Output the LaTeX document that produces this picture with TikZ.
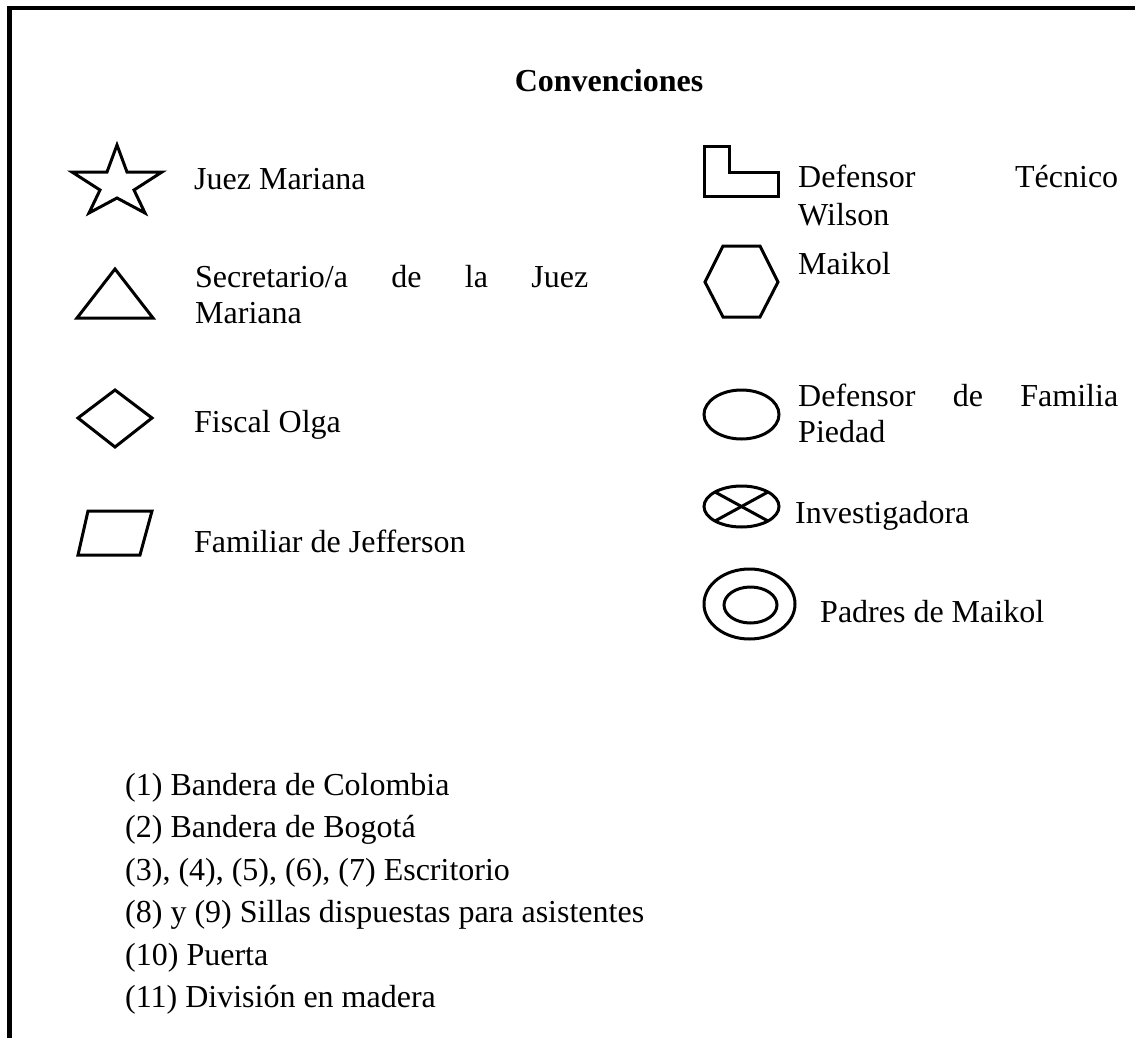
\documentclass[tikz,border=0pt]{standalone}
\usepackage{fontspec}
\setmainfont{Liberation Serif}
\begin{document}
\begin{tikzpicture}[x=1pt,y=-1pt,
  sym/.style={line width=3pt, line join=miter},
  frame/.style={line width=4.5pt},
  lbl/.style={anchor=base west, inner sep=0pt, font=\fontsize{32}{36}\selectfont},
  ttl/.style={anchor=base, inner sep=0pt, font=\fontsize{32}{36}\selectfont\bfseries}]
\useasboundingbox (0,0) rectangle (1135,1038);
\fill[white] (0,0) rectangle (1135,1038);
% frame
\draw[frame] (9.5,1045) -- (9.5,8) -- (1145,8);
% title
\node[ttl] (title) at (609,92) {Convenciones};
% star
\draw[sym] (117,145) -- (127,172) -- (162,172) -- (134,190) -- (145,213) -- (117,198)
  -- (89,213) -- (100,190) -- (72,172) -- (107,172) -- cycle;
\node[lbl] (juez) at (194,189) {Juez Mariana};
% triangle
\draw[sym] (115,269) -- (153,318) -- (77,318) -- cycle;
\node[lbl] (sec1) at (195,287) {\makebox[393pt][s]{Secretario/a de la Juez}};
\node[lbl] (sec2) at (195,323) {Mariana};
% diamond
\draw[sym] (115,390) -- (152,418) -- (115,447) -- (78,418) -- cycle;
\node[lbl] (fiscal) at (194,432) {Fiscal Olga};
% parallelogram
\draw[sym] (88,511) -- (152,511) -- (140,555) -- (78,555) -- cycle;
\node[lbl] (fam) at (194,552) {Familiar de Jefferson};
% L shape
\draw[sym] (704,147) -- (729,147) -- (729,172) -- (778,172) -- (778,196) -- (704,196) -- cycle;
\node[lbl] (def1) at (798,187) {\makebox[320pt][s]{Defensor Técnico}};
\node[lbl] (def2) at (798,225) {Wilson};
% hexagon
\draw[sym] (723,246) -- (760,246) -- (778,282) -- (760,317) -- (723,317) -- (705,282) -- cycle;
\node[lbl] (maikol) at (798,274) {Maikol};
% ellipse
\draw[sym] (741.5,414.5) ellipse [x radius=37.5, y radius=24.5];
\node[lbl] (fam1) at (798,406) {\makebox[320pt][s]{Defensor de Familia}};
\node[lbl] (fam2) at (798,442) {Piedad};
% crossed ellipse
\draw[sym] (741.5,506.5) ellipse [x radius=37.5, y radius=20.5];
\draw[sym] (741.5,506.5) ++(-26.5,-14.5) -- ++(53,29);
\draw[sym] (741.5,506.5) ++(26.5,-14.5) -- ++(-53,29);
\node[lbl] (inv) at (795,523) {Investigadora};
% double ellipse
\draw[sym] (749.5,604) ellipse [x radius=45.5, y radius=35];
\draw[sym] (750.5,605) ellipse [x radius=26.5, y radius=18];
\node[lbl] (padres) at (820,622) {Padres de Maikol};
% list
\node[lbl] (l1) at (125,795) {(1) Bandera de Colombia};
\node[lbl] (l2) at (125,837.5) {(2) Bandera de Bogotá};
\node[lbl] (l3) at (125,880) {(3), (4), (5), (6), (7) Escritorio};
\node[lbl] (l4) at (125,922.5) {(8) y (9) Sillas dispuestas para asistentes};
\node[lbl] (l5) at (125,965) {(10) Puerta};
\node[lbl] (l6) at (125,1007.5) {(11) División en madera};
\end{tikzpicture}
\end{document}
